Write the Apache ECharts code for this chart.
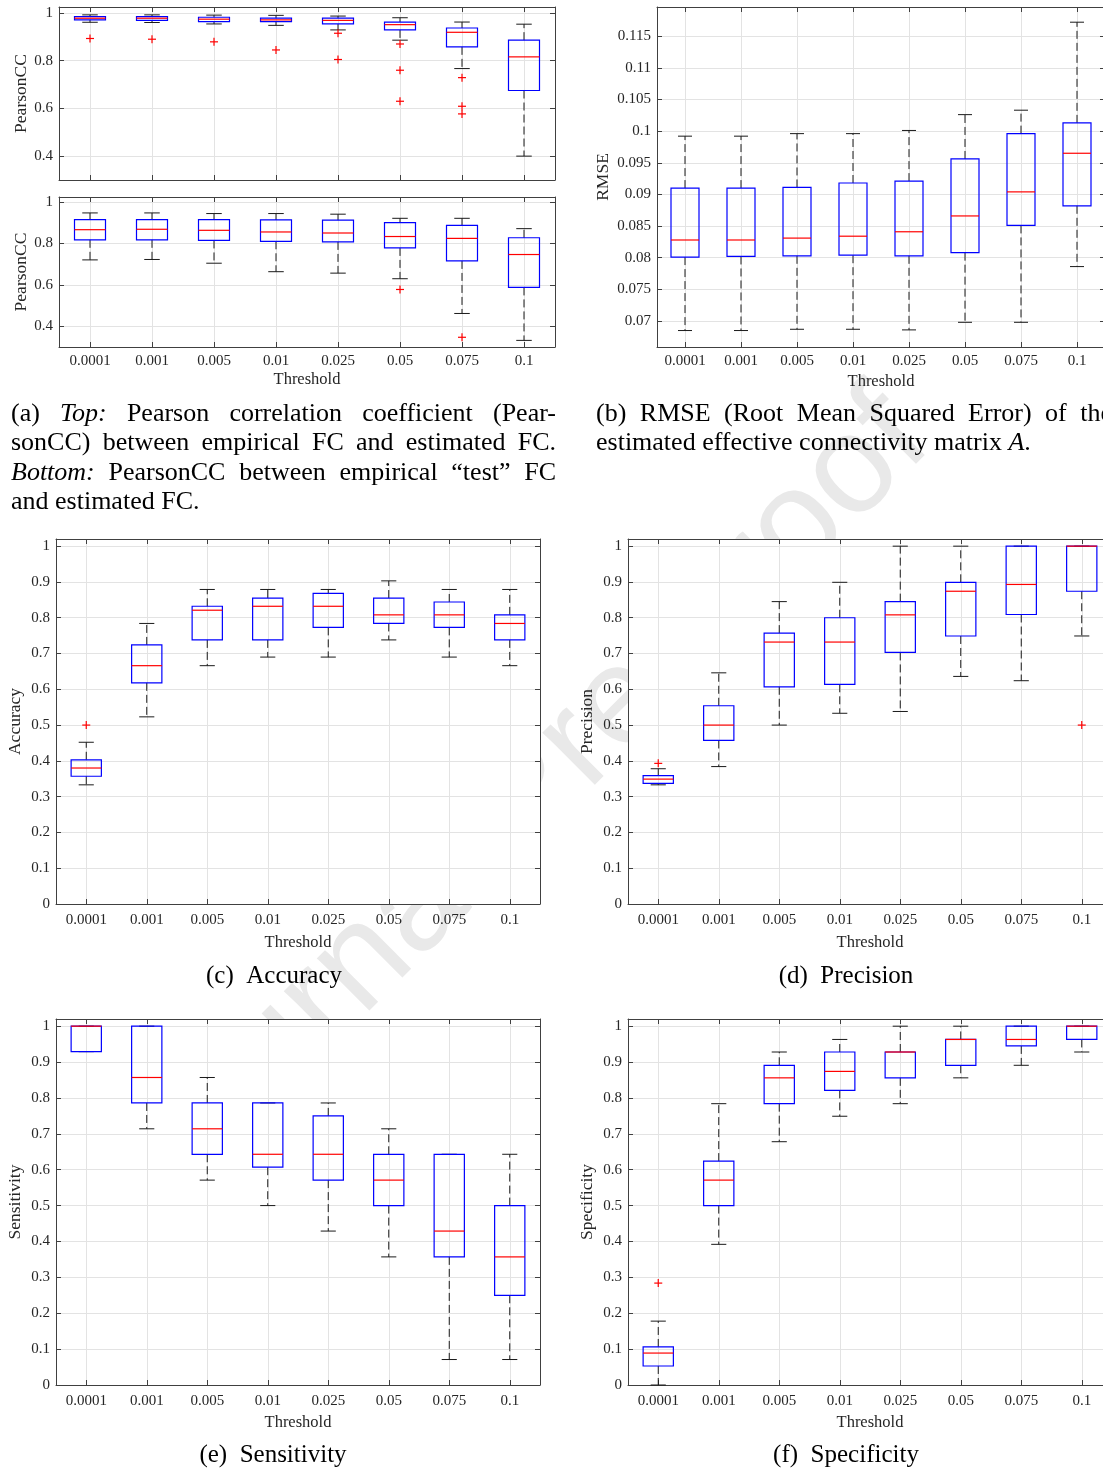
<!DOCTYPE html>
<html><head><meta charset="utf-8">
<script src="https://cdn.jsdelivr.net/npm/echarts@6/dist/echarts.min.js"></script>
<style>html,body{margin:0;padding:0;background:#fff}#c{width:1103px;height:1472px}</style>
</head><body><div id="c"></div>
<script>
// ---------------- data ----------------
const thresholds = ['0.0001','0.001','0.005','0.01','0.025','0.05','0.075','0.1'];
const pearsonTicks = [0.4, 0.6, 0.8, 1];
const rmseTicks = [0.07, 0.075, 0.08, 0.085, 0.09, 0.095, 0.1, 0.105, 0.11, 0.115];
const unitTicks = [0, 0.1, 0.2, 0.3, 0.4, 0.5, 0.6, 0.7, 0.8, 0.9, 1];

// each box: [lower whisker, Q1, median, Q3, upper whisker]
const pearsonTopBoxes = [
  [0.961, 0.971, 0.978, 0.985, 0.992],
  [0.960, 0.969, 0.978, 0.985, 0.992],
  [0.954, 0.964, 0.974, 0.982, 0.991],
  [0.948, 0.964, 0.971, 0.978, 0.990],
  [0.929, 0.954, 0.969, 0.978, 0.987],
  [0.886, 0.929, 0.951, 0.962, 0.980],
  [0.767, 0.858, 0.919, 0.937, 0.962],
  [0.400, 0.675, 0.816, 0.886, 0.953]
];
const pearsonTopOutliers = [[0,0.893],[1,0.890],[2,0.879],[3,0.845],[4,0.915],[4,0.805],
  [5,0.870],[5,0.760],[5,0.630],[6,0.729],[6,0.609],[6,0.577]];

const pearsonTestBoxes = [
  [0.721, 0.818, 0.867, 0.916, 0.948],
  [0.723, 0.818, 0.869, 0.916, 0.948],
  [0.705, 0.815, 0.864, 0.916, 0.945],
  [0.664, 0.811, 0.856, 0.914, 0.945],
  [0.657, 0.808, 0.851, 0.913, 0.942],
  [0.630, 0.779, 0.834, 0.901, 0.922],
  [0.462, 0.716, 0.825, 0.888, 0.922],
  [0.332, 0.588, 0.747, 0.828, 0.872]
];
const pearsonTestOutliers = [[5,0.578],[6,0.347]];

const rmseBoxes = [
  [0.0685, 0.0801, 0.0828, 0.0910, 0.0992],
  [0.0685, 0.0802, 0.0828, 0.0910, 0.0992],
  [0.0687, 0.0803, 0.0831, 0.0911, 0.0996],
  [0.0687, 0.0804, 0.0834, 0.0918, 0.0996],
  [0.0686, 0.0803, 0.0841, 0.0921, 0.1001],
  [0.0698, 0.0808, 0.0866, 0.0956, 0.1026],
  [0.0698, 0.0851, 0.0904, 0.0996, 0.1033],
  [0.0786, 0.0882, 0.0965, 0.1013, 0.1172]
];
const rmseOutliers = [];

const accuracyBoxes = [
  [0.333, 0.357, 0.380, 0.403, 0.452],
  [0.523, 0.618, 0.666, 0.724, 0.784],
  [0.666, 0.738, 0.821, 0.832, 0.879],
  [0.690, 0.738, 0.832, 0.855, 0.879],
  [0.690, 0.773, 0.832, 0.868, 0.879],
  [0.738, 0.784, 0.808, 0.855, 0.903],
  [0.690, 0.773, 0.808, 0.844, 0.879],
  [0.666, 0.738, 0.784, 0.808, 0.879]
];
const accuracyOutliers = [[0,0.5]];

const precisionBoxes = [
  [0.333, 0.337, 0.349, 0.359, 0.378],
  [0.384, 0.457, 0.500, 0.554, 0.646],
  [0.500, 0.607, 0.732, 0.757, 0.845],
  [0.533, 0.614, 0.732, 0.800, 0.899],
  [0.538, 0.703, 0.808, 0.845, 1.000],
  [0.636, 0.749, 0.874, 0.899, 1.000],
  [0.624, 0.809, 0.893, 1.000, 1.000],
  [0.749, 0.874, 1.000, 1.000, 1.000]
];
const precisionOutliers = [[0,0.393],[7,0.5]];

const sensitivityBoxes = [
  [0.929, 0.929, 1.000, 1.000, 1.000],
  [0.714, 0.786, 0.857, 1.000, 1.000],
  [0.571, 0.643, 0.714, 0.786, 0.857],
  [0.500, 0.607, 0.643, 0.786, 0.786],
  [0.429, 0.571, 0.643, 0.750, 0.786],
  [0.357, 0.500, 0.571, 0.643, 0.714],
  [0.071, 0.357, 0.429, 0.643, 0.643],
  [0.071, 0.250, 0.357, 0.500, 0.643]
];
const sensitivityOutliers = [];

const specificityBoxes = [
  [0.000, 0.053, 0.089, 0.106, 0.178],
  [0.392, 0.500, 0.571, 0.624, 0.784],
  [0.678, 0.784, 0.856, 0.891, 0.928],
  [0.749, 0.821, 0.874, 0.928, 0.963],
  [0.784, 0.856, 0.928, 0.928, 1.000],
  [0.856, 0.891, 0.963, 0.963, 1.000],
  [0.891, 0.945, 0.963, 1.000, 1.000],
  [0.928, 0.963, 1.000, 1.000, 1.000]
];
const specificityOutliers = [[0,0.284]];

// ---------------- layout / style ----------------
const SERIF = 'Liberation Serif';
const AXIS_COLOR = '#404040';
const GRID_COLOR = '#e3e3e3';
const catIdx = thresholds.map((_, i) => i);

const panels = [
  {grid:{left:59, top:7, width:496, height:173}, yMin:0.3, yMax:1.025, yTicks:pearsonTicks, yName:'PearsonCC', yNameGap:27, boxes:pearsonTopBoxes, outliers:pearsonTopOutliers, xLabels:false},
  {grid:{left:59, top:197, width:496, height:150}, yMin:0.3, yMax:1.025, yTicks:pearsonTicks, yName:'PearsonCC', yNameGap:27, boxes:pearsonTestBoxes, outliers:pearsonTestOutliers, xLabels:true, xNameGap:24, labelMargin:7},
  {grid:{left:657, top:7, width:448, height:340}, yMin:0.0659, yMax:0.1196, yTicks:rmseTicks, yName:'RMSE', yNameGap:45, boxes:rmseBoxes, outliers:rmseOutliers, xLabels:true, xNameGap:26, labelMargin:7},
  {grid:{left:56, top:539, width:484, height:365}, yMin:0, yMax:1.02, yTicks:unitTicks, yName:'Accuracy', yNameGap:32, boxes:accuracyBoxes, outliers:accuracyOutliers, xLabels:true, xNameGap:30, labelMargin:9},
  {grid:{left:628, top:539, width:484, height:365}, yMin:0, yMax:1.02, yTicks:unitTicks, yName:'Precision', yNameGap:32, boxes:precisionBoxes, outliers:precisionOutliers, xLabels:true, xNameGap:30, labelMargin:9},
  {grid:{left:56, top:1019, width:484, height:366}, yMin:0, yMax:1.02, yTicks:unitTicks, yName:'Sensitivity', yNameGap:32, boxes:sensitivityBoxes, outliers:sensitivityOutliers, xLabels:true, xNameGap:29, labelMargin:9},
  {grid:{left:628, top:1019, width:484, height:366}, yMin:0, yMax:1.02, yTicks:unitTicks, yName:'Specificity', yNameGap:32, boxes:specificityBoxes, outliers:specificityOutliers, xLabels:true, xNameGap:29, labelMargin:9}
];

function renderBox(params, api) {
  const i = api.value(0);
  const lo = api.value(1), q1 = api.value(2), md = api.value(3), q3 = api.value(4), hi = api.value(5);
  const band = api.size([1, 0])[0];
  const half = band * 0.25, cap = band * 0.125;
  const x = api.coord([i, md])[0];
  const y = v => api.coord([i, v])[1];
  const yLo = y(lo), yQ1 = y(q1), yMd = y(md), yQ3 = y(q3), yHi = y(hi);
  const whisk = {stroke:'#1a1a1a', lineWidth:1, lineDash:[8,4]};
  const solid = {stroke:'#1a1a1a', lineWidth:1};
  return {type:'group', children:[
    {type:'line', shape:{x1:x, y1:yQ3, x2:x, y2:yHi}, style:whisk},
    {type:'line', shape:{x1:x, y1:yQ1, x2:x, y2:yLo}, style:whisk},
    {type:'line', shape:{x1:x-cap, y1:yHi, x2:x+cap, y2:yHi}, style:solid},
    {type:'line', shape:{x1:x-cap, y1:yLo, x2:x+cap, y2:yLo}, style:solid},
    {type:'rect', shape:{x:x-half, y:yQ3, width:2*half, height:Math.max(yQ1-yQ3, 0.5)}, style:{fill:'none', stroke:'#0000ff', lineWidth:1.2}},
    {type:'line', shape:{x1:x-half, y1:yMd, x2:x+half, y2:yMd}, style:{stroke:'#ff0000', lineWidth:1.2}}
  ]};
}
function renderPlus(params, api) {
  const c = api.coord([api.value(0), api.value(1)]);
  const s = 4;
  const st = {stroke:'#ff0000', lineWidth:1.2};
  return {type:'group', children:[
    {type:'line', shape:{x1:c[0]-s, y1:c[1], x2:c[0]+s, y2:c[1]}, style:st},
    {type:'line', shape:{x1:c[0], y1:c[1]-s, x2:c[0], y2:c[1]+s}, style:st}
  ]};
}

const grids = [], xAxes = [], yAxes = [], series = [];
panels.forEach((p, k) => {
  grids.push(Object.assign({containLabel:false, outerBoundsMode:'none', show:true, backgroundColor:'#ffffff', borderWidth:0, z:0}, p.grid));
  const tickCommon = {show:true, inside:true, length:5, lineStyle:{color:AXIS_COLOR, width:1}};
  const lineCommon = {show:true, onZero:false, lineStyle:{color:AXIS_COLOR, width:1}};
  xAxes.push({
    type:'value', gridIndex:k, min:-0.5, max:7.5, position:'bottom',
    axisLine:lineCommon,
    axisTick:Object.assign({customValues:catIdx}, tickCommon),
    axisLabel:{show:p.xLabels, customValues:catIdx, formatter:v => thresholds[Math.round(v)], fontFamily:SERIF, fontSize:15, color:'#262626', margin:p.labelMargin || 6},
    splitLine:{show:true, lineStyle:{color:GRID_COLOR, width:1}},
    name:p.xLabels ? 'Threshold' : '', nameLocation:'middle', nameGap:p.xNameGap || 20,
    nameTextStyle:{fontFamily:SERIF, fontSize:16.5, color:'#262626'}
  });
  xAxes.push({
    type:'value', gridIndex:k, min:-0.5, max:7.5, position:'top',
    axisLine:lineCommon,
    axisTick:Object.assign({customValues:catIdx}, tickCommon),
    axisLabel:{show:false}, splitLine:{show:false}
  });
  yAxes.push({
    type:'value', gridIndex:k, min:p.yMin, max:p.yMax, position:'left',
    axisLine:lineCommon,
    axisTick:Object.assign({customValues:p.yTicks}, tickCommon),
    axisLabel:{customValues:p.yTicks, formatter:v => String(+(+v).toFixed(4)), fontFamily:SERIF, fontSize:15, color:'#262626', margin:6},
    splitLine:{show:true, lineStyle:{color:GRID_COLOR, width:1}},
    name:p.yName, nameLocation:'middle', nameGap:p.yNameGap, nameRotate:90,
    nameTextStyle:{fontFamily:SERIF, fontSize:17.5, color:'#262626'}
  });
  yAxes.push({
    type:'value', gridIndex:k, min:p.yMin, max:p.yMax, position:'right',
    axisLine:lineCommon,
    axisTick:Object.assign({customValues:p.yTicks}, tickCommon),
    axisLabel:{show:false}, splitLine:{show:false}
  });
  series.push({
    type:'custom', coordinateSystem:'cartesian2d', xAxisIndex:2*k, yAxisIndex:2*k,
    data:p.boxes.map((b, i) => [i].concat(b)),
    encode:{x:0, y:[1,2,3,4,5]}, renderItem:renderBox, clip:false, z:3
  });
  if (p.outliers.length) series.push({
    type:'custom', coordinateSystem:'cartesian2d', xAxisIndex:2*k, yAxisIndex:2*k,
    data:p.outliers, encode:{x:0, y:1}, renderItem:renderPlus, clip:false, z:4
  });
});

// ---------------- captions ----------------
const mctx = document.createElement('canvas').getContext('2d');
function fnt(it, sz){ return (it ? 'italic ' : '') + sz + 'px "' + SERIF + '"'; }
function tw(t, it, sz){ mctx.font = fnt(it, sz); return mctx.measureText(t).width; }
function txt(x, y, t, it, sz, align){
  return {type:'text', x:x, y:y, z:20, style:{text:t, fontSize:sz, fontFamily:SERIF, fontStyle:it?'italic':'normal', fill:'#000',
    align:align||'left', verticalAlign:'middle', textAlign:align||'left', textVerticalAlign:'middle'}};
}
const PAR = 26, SUB = 25;
function line(words, x0, x1, y, justify){
  const w = words.map(wd => wd.reduce((s, [t, it]) => s + tw(t, it, PAR), 0));
  const tot = w.reduce((a, b) => a + b, 0);
  const sp = justify ? (x1 - x0 - tot) / (words.length - 1) : tw(' ', false, PAR);
  const out = []; let x = x0;
  words.forEach((wd, k) => {
    let xx = x;
    wd.forEach(([t, it]) => { out.push(txt(xx, y, t, it, PAR)); xx += tw(t, it, PAR); });
    x += w[k] + sp;
  });
  return out;
}
const W = s => s.split(' ').map(t => [[t, false]]);
const capEls = [];
capEls.push(...line([[['(a)',false]],[['Top:',true]]].concat(W('Pearson correlation coefficient (Pear-')), 11, 556, 414, true));
capEls.push(...line(W('sonCC) between empirical FC and estimated FC.'), 11, 556, 443.5, true));
capEls.push(...line([[['Bottom:',true]]].concat(W('PearsonCC between empirical “test” FC')), 11, 556, 473, true));
capEls.push(...line(W('and estimated FC.'), 11, 556, 502.5, false));
capEls.push(...line(W('(b) RMSE (Root Mean Squared Error) of the'), 596, 1112, 414, true));
capEls.push(...line(W('estimated effective connectivity matrix').concat([[['A',true],['.',false]]]), 596, 1112, 443.5, false));
capEls.push(txt(274, 976.5, '(c)  Accuracy', false, SUB, 'center'));
capEls.push(txt(846, 976.5, '(d)  Precision', false, SUB, 'center'));
capEls.push(txt(273, 1455.5, '(e)  Sensitivity', false, SUB, 'center'));
capEls.push(txt(846, 1455.5, '(f)  Specificity', false, SUB, 'center'));

const watermark = {type:'text', x:525, y:800, rotation:Math.PI/4, z:-10,
  style:{text:'Journal Pre-proof', fontSize:140, fontFamily:'Liberation Sans', fill:'#e9e9e9',
    align:'center', verticalAlign:'middle', textAlign:'center', textVerticalAlign:'middle'}};

const chart = echarts.init(document.getElementById('c'), null, {renderer:'canvas'});
chart.setOption({
  animation:false, backgroundColor:'#ffffff',
  grid:grids, xAxis:xAxes, yAxis:yAxes, series:series,
  graphic:{elements:[watermark].concat(capEls)}
});
</script></body></html>
